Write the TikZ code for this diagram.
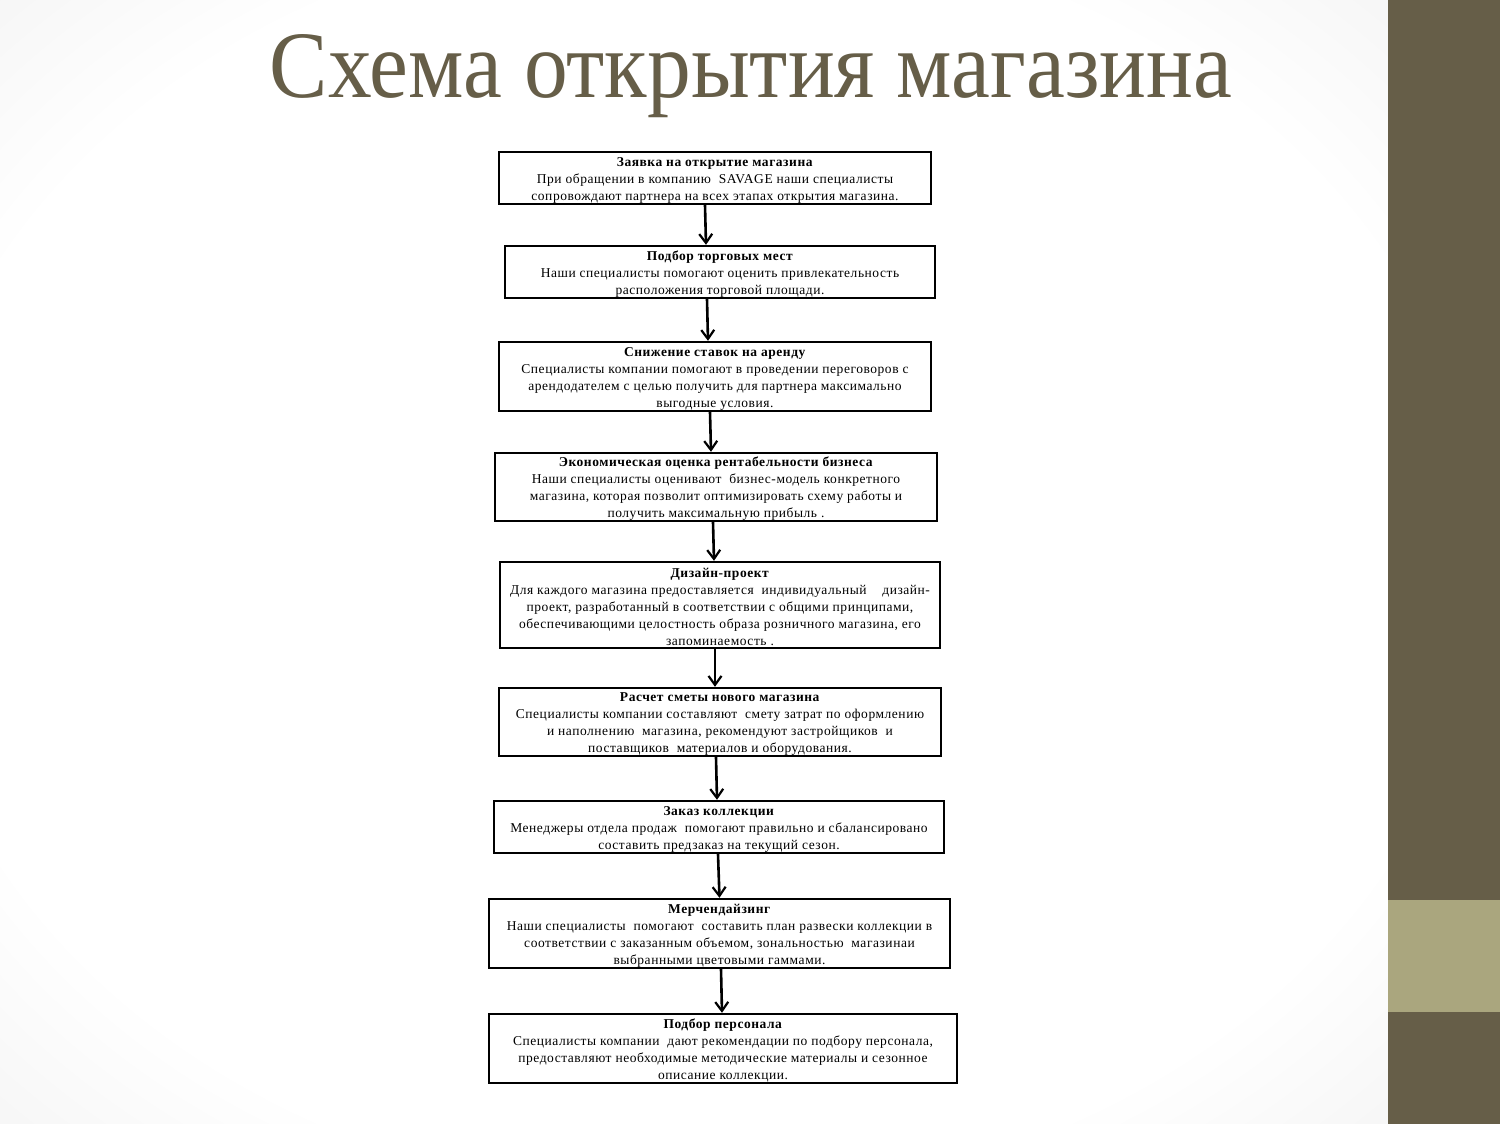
\documentclass[tikz,border=0pt]{standalone}
\usepackage{fontspec}
\setmainfont{Liberation Serif}
\usetikzlibrary{arrows.meta}
\definecolor{olive}{HTML}{665E48}
\definecolor{lightolive}{HTML}{AAA67E}
\pgfdeclareradialshading{slidebg}{\pgfpoint{0bp}{0bp}}{color(0bp)=(white); color(28bp)=(white); color(50bp)=(black!10); color(72bp)=(black!18)}
\tikzset{
  stepbox/.style={draw=black, line width=2.4pt, fill=white, inner sep=0pt},
  steptext/.style={inner sep=0pt, align=center,
    font=\fontsize{13.5}{17}\selectfont\addfontfeature{LetterSpace=4}},
  arr/.style={line width=2.6pt, -{Straight Barb[length=9pt,width=13pt,line width=2.2pt]}},
}
\begin{document}
\begin{tikzpicture}[x=1pt,y=-1pt]
\useasboundingbox (0,0) rectangle (1500,1124);
\shade[shading=slidebg] (0,0) rectangle (1388,1124);
\fill[olive] (1388,0) rectangle (1500,1124);
\fill[lightolive] (1388,900) rectangle (1500,1012);
\node[anchor=base, text=olive, inner sep=0pt] (title) at (751,97)
  {\resizebox{962pt}{63pt}{\fontsize{90}{90}\selectfont Схема открытия магазина}};

\node[stepbox, minimum width=432pt, minimum height=52pt] (b1) at (715,178) {};
\node[steptext] (t1) at ([yshift=-2pt]b1.center)
  {\textbf{Заявка на открытие магазина}\\
   При обращении в компанию\ \ SAVAGE наши специалисты\\
   сопровождают партнера на всех этапах открытия магазина.};
\node[stepbox, minimum width=430pt, minimum height=52pt] (b2) at (720,272) {};
\node[steptext] (t2) at ([yshift=-2pt]b2.center)
  {\textbf{Подбор торговых мест}\\
   Наши специалисты помогают оценить привлекательность\\
   расположения торговой площади.};
\node[stepbox, minimum width=432pt, minimum height=69pt] (b3) at (715,376.5) {};
\node[steptext] (t3) at ([yshift=-2pt]b3.center)
  {\textbf{Снижение ставок на аренду}\\
   Специалисты компании помогают в проведении переговоров с\\
   арендодателем с целью получить для партнера максимально\\
   выгодные условия.};
\node[stepbox, minimum width=442pt, minimum height=68pt] (b4) at (716,487) {};
\node[steptext] (t4) at ([yshift=-2pt]b4.center)
  {\textbf{Экономическая оценка рентабельности бизнеса}\\
   Наши специалисты оценивают\ \ бизнес-модель конкретного\\
   магазина, которая позволит оптимизировать схему работы и\\
   получить максимальную прибыль .};
\node[stepbox, minimum width=440pt, minimum height=86pt] (b5) at (720,605) {};
\node[steptext] (t5) at ([yshift=-2pt]b5.center)
  {\textbf{Дизайн-проект}\\
   Для каждого магазина предоставляется\ \ индивидуальный\ \ \ \ дизайн-\\
   проект, разработанный в соответствии с общими принципами,\\
   обеспечивающими целостность образа розничного магазина, его\\
   запоминаемость .};
\node[stepbox, minimum width=442pt, minimum height=68pt] (b6) at (720,722) {};
\node[steptext] (t6) at ([yshift=-2pt]b6.center)
  {\textbf{Расчет сметы нового магазина}\\
   Специалисты компании составляют\ \ смету затрат по оформлению\\
   и наполнению\ \ магазина, рекомендуют застройщиков\ \ и\\
   поставщиков\ \ материалов и оборудования.};
\node[stepbox, minimum width=450pt, minimum height=52pt] (b7) at (719,827) {};
\node[steptext] (t7) at ([yshift=-2pt]b7.center)
  {\textbf{Заказ коллекции}\\
   Менеджеры отдела продаж\ \ помогают правильно и сбалансировано\\
   составить предзаказ на текущий сезон.};
\node[stepbox, minimum width=461pt, minimum height=69pt] (b8) at (719.5,933.5) {};
\node[steptext] (t8) at ([yshift=-2pt]b8.center)
  {\textbf{Мерчендайзинг}\\
   Наши специалисты\ \ помогают\ \ составить план развески коллекции в\\
   соответствии с заказанным объемом, зональностью\ \ магазинаи\\
   выбранными цветовыми гаммами.};
\node[stepbox, minimum width=468pt, minimum height=69pt] (b9) at (723,1048.5) {};
\node[steptext] (t9) at ([yshift=-2pt]b9.center)
  {\textbf{Подбор персонала}\\
   Специалисты компании\ \ дают рекомендации по подбору персонала,\\
   предоставляют необходимые методические материалы и сезонное\\
   описание коллекции.};

\draw[arr] ([xshift=-10pt]b1.south) -- ([xshift=-14pt]b2.north);
\draw[arr] ([xshift=-13pt]b2.south) -- ([xshift=-7pt]b3.north);
\draw[arr] ([xshift=-5pt]b3.south) -- ([xshift=-5pt]b4.north);
\draw[arr] ([xshift=-3pt]b4.south) -- ([xshift=-6pt]b5.north);
\draw[arr] ([xshift=-5pt]b5.south) -- ([xshift=-5pt]b6.north);
\draw[arr] ([xshift=-4pt]b6.south) -- ([xshift=-2pt]b7.north);
\draw[arr] ([xshift=-1pt]b7.south) -- ([xshift=0pt]b8.north);
\draw[arr] ([xshift=1.5pt]b8.south) -- ([xshift=-1pt]b9.north);
\end{tikzpicture}
\end{document}
